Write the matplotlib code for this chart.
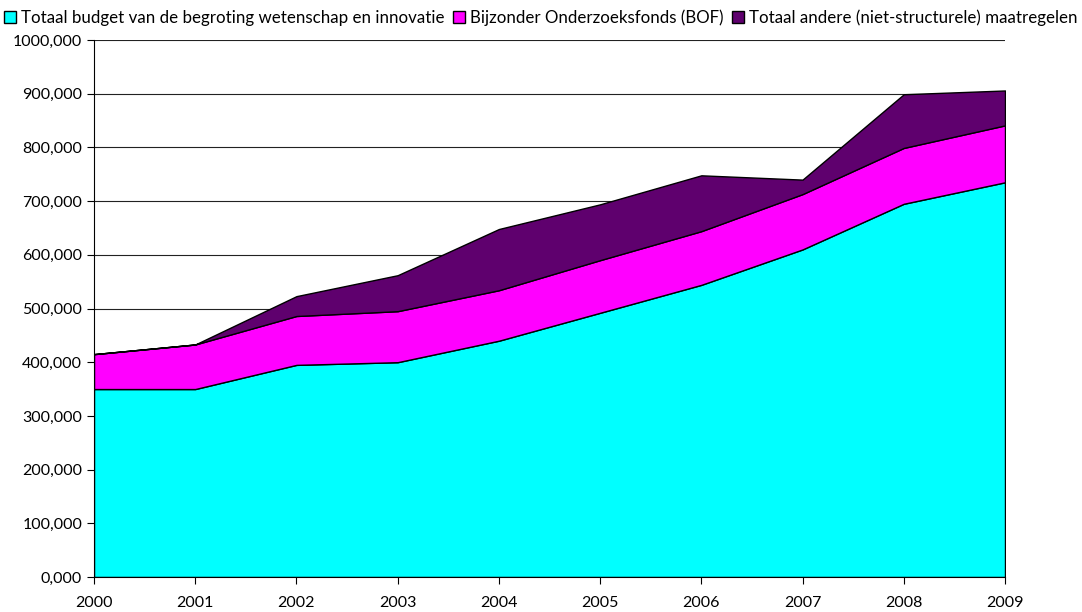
import matplotlib.pyplot as plt
from matplotlib.ticker import FuncFormatter
from matplotlib.patches import Patch

years = [2000, 2001, 2002, 2003, 2004, 2005, 2006, 2007, 2008, 2009]
budget = [350000, 350000, 395000, 400000, 440000, 492000, 544000, 610000, 695000, 735000]
bof = [65000, 83000, 91000, 95000, 94000, 98000, 100000, 103000, 104000, 106000]
andere = [0, 0, 37000, 67000, 114000, 104000, 104000, 27000, 100000, 65000]

labels = ["Totaal budget van de begroting wetenschap en innovatie",
          "Bijzonder Onderzoeksfonds (BOF)",
          "Totaal andere (niet-structurele) maatregelen"]
colors = ["#00FFFF", "#FF00FF", "#5F006E"]

plt.rcParams['font.family'] = ['Lato', 'DejaVu Sans']

fig = plt.figure(figsize=(10.82, 6.12), dpi=100)
ax = fig.add_axes([94 / 1082, 1 - 577 / 612, (1005 - 94) / 1082, (577 - 40) / 612])

ax.stackplot(years, budget, bof, andere, colors=colors,
             edgecolor="black", linewidth=1, zorder=2)

ax.set_xlim(2000, 2009)
ax.set_ylim(0, 1000000)
ax.set_yticks(range(0, 1000001, 100000))
ax.yaxis.set_major_formatter(FuncFormatter(lambda v, p: f"{int(round(v / 1000))},000"))
ax.set_xticks(years)
ax.set_axisbelow(True)
ax.grid(axis="y", color="#222222", linewidth=0.8, zorder=0)
for s in ["top", "right"]:
    ax.spines[s].set_visible(False)
for s in ["left", "bottom"]:
    ax.spines[s].set_zorder(3)
ax.tick_params(labelsize=11.5, length=5, direction="out")
ax.tick_params(axis="x", pad=9)

handles = [Patch(facecolor=c, edgecolor="black", linewidth=1) for c in colors]
fig.legend(handles, labels, loc="upper center", bbox_to_anchor=(0.5, 1.01), ncol=3,
           frameon=False, fontsize=12.2, handlelength=0.7, handleheight=0.7,
           handletextpad=0.3, columnspacing=0.5)

fig.savefig("out.png", dpi=100)
